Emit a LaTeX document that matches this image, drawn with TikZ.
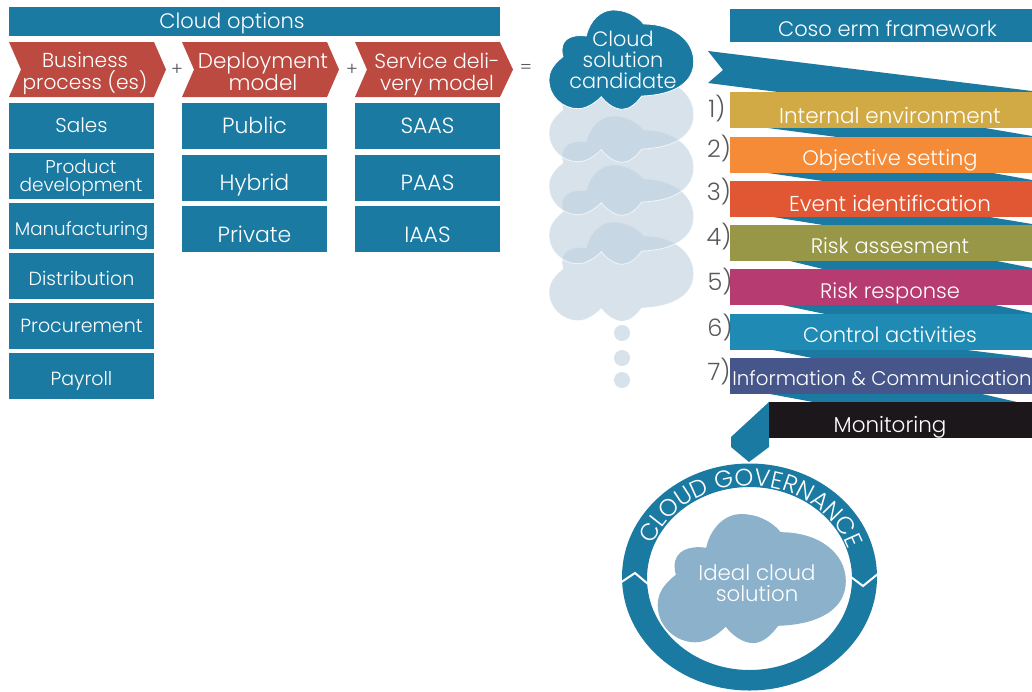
\documentclass[tikz,border=0pt]{standalone}
\usepackage{fontspec}
\setmainfont{Poppins}[UprightFont={* Light}]
\usetikzlibrary{decorations.text}
\definecolor{optblue}{HTML}{1A7AA2}
\definecolor{chevred}{HTML}{BC4A41}
\definecolor{ghostblue}{HTML}{BFD0DF}
\definecolor{idealblue}{HTML}{8BB1CB}
\definecolor{numgray}{HTML}{58595B}
\newcommand{\setpx}[2]{\fontsize{#1}{#2}\selectfont}
\newcommand{\cloudpath}{(14,46.7) .. controls (5.7,53.3) and (0,60) .. (0,70)
 .. controls (0,86.7) and (14,98.7) .. (29,98.7)
 .. controls (37.3,98.7) and (45.7,93.3) .. (52.3,86.7)
 .. controls (57.3,93.3) and (65.7,99.3) .. (73.3,99.3)
 .. controls (80.7,99.3) and (87.3,93.3) .. (92.7,86)
 .. controls (124,85) and (144.7,73.3) .. (144.7,51.7)
 .. controls (144.7,30) and (124,14) .. (94.7,14)
 .. controls (87.3,5) and (75.7,0) .. (64,0)
 .. controls (52.3,0) and (40.7,10) .. (37.3,26)
 .. controls (24,24) and (13,28.3) .. (13,40)
 .. controls (13,42.7) and (13.3,45) .. (14,46.7) -- cycle}
\tikzset{
    bluebox/.style={rectangle,fill=optblue,text=white,inner sep=0pt,outer sep=0pt,
        minimum width=145pt,minimum height=46pt,text depth=0pt,font=\setpx{22}{22}},
    sidebox/.style={bluebox,font=\setpx{19}{19}},
    stepbar/.style={rectangle,text=white,inner sep=0pt,outer sep=0pt,
        minimum width=320pt,minimum height=36pt,text depth=0pt,font=\setpx{21}{21}},
    chevron/.style={fill=chevred},
    ribbon/.style={fill=optblue},
    whitetext/.style={text=white,align=center,inner sep=0pt,font=\setpx{21}{21}},
    numtext/.style={text=numgray,inner sep=0pt,font=\setpx{24}{24}},
    optext/.style={text=numgray,inner sep=0pt,font=\setpx{18}{18}},
    ghostcloud/.style={fill=ghostblue,fill opacity=.62,draw=white,draw opacity=.7,line width=.8pt},
    dotnode/.style={circle,fill=ghostblue!62,inner sep=0pt,minimum size=16pt}}

\begin{document}
\begin{tikzpicture}[x=1pt,y=-1pt]
\useasboundingbox (0,0) rectangle (1032,691);

% cloud options
\node[bluebox,minimum width=491pt,minimum height=29pt] (options) at (254.5,21.5) {};
\node[whitetext,text height=13pt,text depth=0pt] (optionstext) at (232,21.5) {Cloud options};
\fill[chevron] (9,42) -- (154,42) -- (166,69.5) -- (154,97) -- (9,97) -- (21,69.5) -- cycle;
\fill[chevron] (182,42) -- (327,42) -- (339,69.5) -- (327,97) -- (182,97) -- (194,69.5) -- cycle;
\fill[chevron] (355,42) -- (500,42) -- (513,69.5) -- (500,97) -- (355,97) -- (367,69.5) -- cycle;
\node[whitetext,font=\setpx{20.2}{22}] (business) at (85,73.5) {Business\\process (es)};
\node[whitetext,font=\setpx{21.5}{22}] (deployment) at (263,71.5) {Deployment\\model};
\node[whitetext,font=\setpx{20.5}{22}] (service) at (437,74.5) {Service deli-\\very model};
\node[optext] (plusa) at (177,70) {+};
\node[optext] (plusb) at (352,70) {+};
\node[optext] (equals) at (526,69) {=};

\node[bluebox,text height=12pt,font=\setpx{20}{20}] (sales) at (81.5,126) {Sales};
\node[bluebox] (product) at (81.5,176) {};
\node[whitetext,font=\setpx{18.5}{18}] (producttext) at (81,178) {Product\\development};
\node[sidebox,text height=18pt,font=\setpx{18.3}{18}] (manufacturing) at (81.5,226) {Manufacturing};
\node[sidebox,text height=18pt] (distribution) at (81.5,276) {Distribution};
\node[sidebox,text height=12pt] (procurement) at (81.5,326) {Procurement};
\node[sidebox,text height=18pt] (payroll) at (81.5,376) {Payroll};

\node[bluebox,text height=15pt] (public) at (254.5,126) {Public};
\node[bluebox,text height=24pt] (hybrid) at (254.5,178) {Hybrid};
\node[bluebox,text height=26pt] (private) at (254.5,229) {Private};
\node[bluebox,text height=15pt] (saas) at (427.5,126) {SAAS};
\node[bluebox,text height=24pt] (paas) at (427.5,178) {PAAS};
\node[bluebox,text height=26pt] (iaas) at (427.5,229) {IAAS};

% candidate clouds
\path[ghostcloud,shift={(549,222)}] \cloudpath;
\path[ghostcloud,shift={(549,165)}] \cloudpath;
\path[ghostcloud,shift={(549,116)}] \cloudpath;
\path[ghostcloud,shift={(549,63)}] \cloudpath;
\path[fill=optblue,draw=white,line width=.8pt,shift={(549,10)}] \cloudpath;
\node[whitetext,font=\setpx{20.8}{21}] (candidate) at (623,59.5) {Cloud\\solution\\candidate};
\node[dotnode] (dota) at (622,333) {};
\node[dotnode] (dotb) at (622,358) {};
\node[dotnode] (dotc) at (622,380) {};

% coso ribbon
\fill[ribbon] (708,51) -- (723,70) -- (708,83) -- (778,92) -- (1032,92) -- (1032,91) -- cycle;
\fill[ribbon] (768,128) -- (837,137) -- (1032,137) -- (1032,136) -- (985,128) -- cycle;
\fill[ribbon] (768,173) -- (823,181) -- (1032,181) -- (1032,180) -- (993,173) -- cycle;
\fill[ribbon] (773,217) -- (823,225) -- (1032,225) -- (1032,224) -- (990,217) -- cycle;
\fill[ribbon] (790,261) -- (823,269) -- (1032,269) -- (1032,268) -- (997,261) -- cycle;
\fill[ribbon] (782,305) -- (825,314) -- (1032,314) -- (1032,313) -- (995,305) -- cycle;
\fill[ribbon] (773,350) -- (812,358) -- (1032,358) -- (967,350) -- cycle;
\fill[ribbon] (770,394) -- (813,402) -- (1017,402) -- (982,394) -- cycle;
\fill[ribbon] (769,402) -- (731,437) -- (731,447) -- (749,462) -- (769,447) -- cycle;

\node[stepbar,fill=optblue,minimum width=315pt,minimum height=33pt,text height=21pt] (coso) at (887.5,25.5) {Coso erm framework};
\node[stepbar,fill={rgb,255:red,210;green,170;blue,69},text height=26pt,font=\setpx{21.5}{21}] (internal) at (890,110) {Internal environment};
\node[stepbar,fill={rgb,255:red,245;green,139;blue,55},text height=20pt] (objective) at (890,155) {Objective setting};
\node[stepbar,fill={rgb,255:red,226;green,87;blue,51},text height=24pt,font=\setpx{21.5}{21}] (event) at (890,199) {Event identification};
\node[stepbar,fill={rgb,255:red,152;green,150;blue,71},text height=20pt] (assesment) at (890,243) {Risk assesment};
\node[stepbar,fill={rgb,255:red,182;green,59;blue,112},text height=22pt] (response) at (890,287) {Risk response};
\node[stepbar,fill={rgb,255:red,31;green,138;blue,179},text height=20pt] (control) at (890,332) {Control activities};
\node[stepbar,fill={rgb,255:red,71;green,86;blue,138}] (information) at (890,376) {};
\node[whitetext,text height=18pt,text depth=0pt,font=\setpx{19.8}{21}] (informationtext) at (882,376) {Information \& Communication};
\node[stepbar,fill={rgb,255:red,28;green,23;blue,27},minimum width=281pt] (monitoring) at (909.5,420) {};
\node[whitetext,font=\setpx{21.5}{21}] (monitoringtext) at (890,427) {Monitoring};

\node[numtext] (numa) at (717,109) {1)};
\node[numtext] (numb) at (719,149) {2)};
\node[numtext] (numc) at (719,192) {3)};
\node[numtext] (numd) at (719,237) {4)};
\node[numtext] (nume) at (720,282) {5)};
\node[numtext] (numf) at (720,328) {6)};
\node[numtext] (numg) at (719,372) {7)};

% governance ring
\fill[optblue,even odd rule] (749.5,577) ellipse [x radius=127.5pt,y radius=113.5pt]
    (749.5,578.5) ellipse [x radius=102.5pt,y radius=91.5pt];
\draw[white,line width=2pt] (620,583) -- (635,573) -- (648,584);
\draw[white,line width=2pt] (851,577) -- (863,586) -- (879,573);
\path[decorate,decoration={text along path,text align=center,text color=white,
    text={|\setpx{24}{24}|CLOUD GOVERNANCE}}] (647.1,562.4) arc [start angle=170,end angle=7,x radius=104pt,y radius=93pt];
\path[fill=idealblue,shift={(657.7,514)},scale=1.3] \cloudpath;
\node[whitetext,font=\setpx{21.3}{21}] (ideal) at (757,583) {Ideal cloud\\solution};
\end{tikzpicture}
\end{document}
